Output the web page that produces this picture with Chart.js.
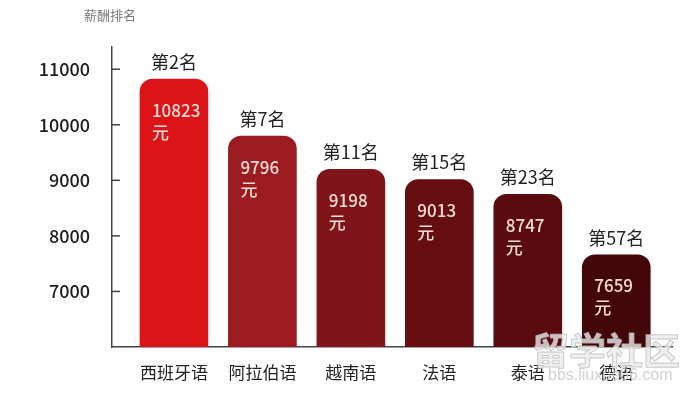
<!DOCTYPE html>
<html>
<head>
<meta charset="utf-8">
<script src="https://cdn.jsdelivr.net/npm/chart.js@4.4.1/dist/chart.umd.min.js"></script>
<style>
  html, body { margin: 0; padding: 0; background: #fff; }
  #wrap { position: relative; width: 691px; height: 397px; }
  #title { position: absolute; left: 84px; top: 5px; font: 13px "Noto Sans CJK SC", sans-serif; color: #7a7a7a; white-space: nowrap; }
  #mark { position: absolute; left: 532px; top: 322px; font: bold 37px "Noto Sans CJK SC", sans-serif; color: rgba(235,235,235,0.8); white-space: nowrap; -webkit-text-stroke: 1px rgba(190,190,190,0.8); }
  #mark2 { position: absolute; left: 548px; top: 366px; font: 16px "Liberation Sans", sans-serif; color: rgba(200,200,200,0.85); white-space: nowrap; }
</style>
</head>
<body>
<div id="wrap">
  <canvas id="c" width="691" height="397"></canvas>
  <div id="title">薪酬排名</div>
  <div id="mark">留学社区</div>
  <div id="mark2">bbs.liuxue86.com</div>
</div>
<script>
// 数据
const languages = ['西班牙语', '阿拉伯语', '越南语', '法语', '泰语', '德语'];
const salaries = [10823, 9796, 9198, 9013, 8747, 7659];
const ranks = ['第2名', '第7名', '第11名', '第15名', '第23名', '第57名'];
const yTicks = [7000, 8000, 9000, 10000, 11000];

const barColors = ['#dc1419', '#9b1b20', '#7f151a', '#650e12', '#5a0b10', '#43070a'];
const FONT = '"Noto Sans CJK SC", sans-serif';

// 坐标轴内侧的小刻度
const innerTicks = {
  id: 'innerTicks',
  afterDraw(chart) {
    const ctx = chart.ctx, y = chart.scales.y, left = chart.chartArea.left;
    ctx.save();
    ctx.strokeStyle = '#444';
    ctx.lineWidth = 1.5;
    yTicks.forEach(v => {
      const py = y.getPixelForValue(v);
      ctx.beginPath();
      ctx.moveTo(left, py);
      ctx.lineTo(left + 8, py);
      ctx.stroke();
    });
    ctx.restore();
  }
};

// 排名和金额标签
const barLabels = {
  id: 'barLabels',
  afterDatasetsDraw(chart) {
    const ctx = chart.ctx;
    const meta = chart.getDatasetMeta(0);
    ctx.save();
    meta.data.forEach((bar, i) => {
      const left = bar.x - bar.width / 2;
      ctx.fillStyle = '#222';
      ctx.font = '18px ' + FONT;
      ctx.textAlign = 'center';
      ctx.textBaseline = 'middle';
      ctx.fillText(ranks[i], bar.x, bar.y - 17);

      ctx.fillStyle = '#f7dcd3';
      ctx.font = '500 17px ' + FONT;
      ctx.textAlign = 'left';
      ctx.fillText(String(salaries[i]), left + 12, bar.y + 31);
      ctx.fillText('元', left + 12, bar.y + 53);
    });
    ctx.restore();
  }
};

new Chart(document.getElementById('c'), {
  type: 'bar',
  data: {
    datasets: [{
      data: salaries.map((v, i) => ({ x: i, y: v })),
      backgroundColor: barColors,
      barThickness: 68,
      borderRadius: { topLeft: 13, topRight: 13, bottomLeft: 0, bottomRight: 0 },
      borderSkipped: 'bottom'
    }]
  },
  options: {
    responsive: false,
    animation: false,
    layout: { padding: { top: 47, right: 19, left: 0, bottom: 0 } },
    plugins: { legend: { display: false }, tooltip: { enabled: false } },
    scales: {
      x: {
        type: 'linear',
        offset: false,
        min: -0.7,
        max: 5.63,
        grid: { display: false, offset: false },
        border: { display: true, color: '#444', width: 1.5 },
        afterBuildTicks: s => { s.ticks = languages.map((c, i) => ({ value: i })); },
        afterFit: s => { s.height = 50; },
        ticks: {
          padding: 7,
          color: '#222',
          font: { family: FONT, size: 17 },
          maxRotation: 0,
          autoSkip: false,
          callback: v => languages[v]
        }
      },
      y: {
        min: 6000,
        max: 11400,
        grid: { display: false },
        border: { display: true, color: '#444', width: 1.5 },
        afterBuildTicks: s => { s.ticks = yTicks.map(v => ({ value: v })); },
        afterFit: s => { s.width = 112; },
        ticks: {
          padding: 14,
          color: '#1e1e1e',
          font: { family: FONT, size: 18, weight: '500' },
          callback: v => String(v)
        }
      }
    }
  },
  plugins: [innerTicks, barLabels]
});
</script>
</body>
</html>
